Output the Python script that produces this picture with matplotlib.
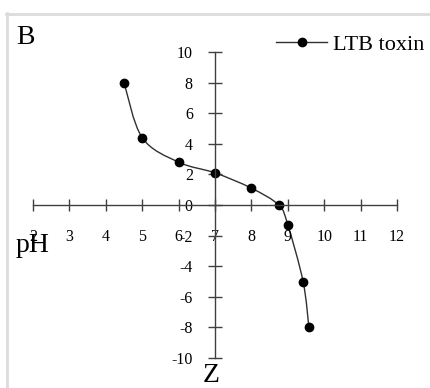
import numpy as np
import matplotlib
matplotlib.use("Agg")
import matplotlib.pyplot as plt
from matplotlib.path import Path
from matplotlib.patches import PathPatch
from matplotlib.lines import Line2D

ph = [4.5, 5.0, 6.0, 7.0, 8.0, 8.75, 9.0, 9.42, 9.58]
z = [8.0, 4.4, 2.8, 2.1, 1.1, 0.0, -1.3, -5.0, -8.0]
xticks = [2, 3, 4, 5, 6, 7, 8, 9, 10, 11, 12]
yticks = [-10, -8, -6, -4, -2, 0, 2, 4, 6, 8, 10]
series_name = "LTB toxin"

plt.rcParams['font.family'] = ['Liberation Serif', 'DejaVu Serif']

W, H = 430, 388
fig = plt.figure(figsize=(W / 100, H / 100), dpi=100)
ax = fig.add_axes([33 / W, (H - 358) / H, 364 / W, 306 / H])
ax.set_xlim(2, 12)
ax.set_ylim(-10, 10)

for s in ['top', 'right']:
    ax.spines[s].set_visible(False)
ax.spines['left'].set_position(('data', 7))
ax.spines['bottom'].set_position(('data', 0))
for s in ['left', 'bottom']:
    ax.spines[s].set_color('#404040')
    ax.spines[s].set_linewidth(1.0)

ax.set_xticks(xticks)
ax.set_yticks(yticks)
ax.set_xticklabels([str(v) for v in xticks])
ax.set_yticklabels([str(v) for v in yticks])
ax.tick_params(axis='x', direction='inout', length=8, width=1, color='#404040',
               pad=13, labelsize=11.5)
ax.tick_params(axis='y', direction='inout', length=10, width=1, color='#404040',
               pad=11, labelsize=11.5)

# smoothed line (Catmull-Rom style Bezier through the data points)
px = np.array(ph)
py = np.array(z)
n = len(px)
verts = [(px[0], py[0])]
codes = [Path.MOVETO]
t = 1 / 6
for i in range(n - 1):
    p0 = np.array([px[max(i - 1, 0)], py[max(i - 1, 0)]])
    p1 = np.array([px[i], py[i]])
    p2 = np.array([px[i + 1], py[i + 1]])
    p3 = np.array([px[min(i + 2, n - 1)], py[min(i + 2, n - 1)]])
    c1 = p1 + (p2 - p0) * t
    c2 = p2 - (p3 - p1) * t
    verts += [tuple(c1), tuple(c2), tuple(p2)]
    codes += [Path.CURVE4] * 3
ax.add_patch(PathPatch(Path(verts, codes), facecolor='none', edgecolor='#303030', lw=1.0))
ax.plot(ph, z, linestyle='none', marker='o', markersize=6, color='black')

# legend
leg_handle = Line2D([], [], color='#303030', lw=1.0, marker='o', markersize=6,
                    markerfacecolor='black', markeredgecolor='black')
fig.legend([leg_handle], [series_name], loc='center left',
           bbox_to_anchor=(276 / W, 1 - 45 / H), frameon=False, fontsize=16,
           handlelength=2.3, handletextpad=0.27, borderpad=0, borderaxespad=0)

fig.text(16 / W, 1 - 37 / H, "B", fontsize=20, va='center', ha='left')
fig.text(16 / W, 1 - 245 / H, "pH", fontsize=20, va='center', ha='left')
fig.text(211 / W, 1 - 375 / H, "Z", fontsize=20, va='center', ha='center')

# light gray frame
fig.add_artist(Line2D([7 / W, 7 / W], [0, 1 - 13 / H], transform=fig.transFigure,
                      color='#dcdcdc', lw=2))
fig.add_artist(Line2D([6 / W, 1], [1 - 14 / H, 1 - 14 / H], transform=fig.transFigure,
                      color='#dcdcdc', lw=2))

fig.savefig("out.png", dpi=100)
